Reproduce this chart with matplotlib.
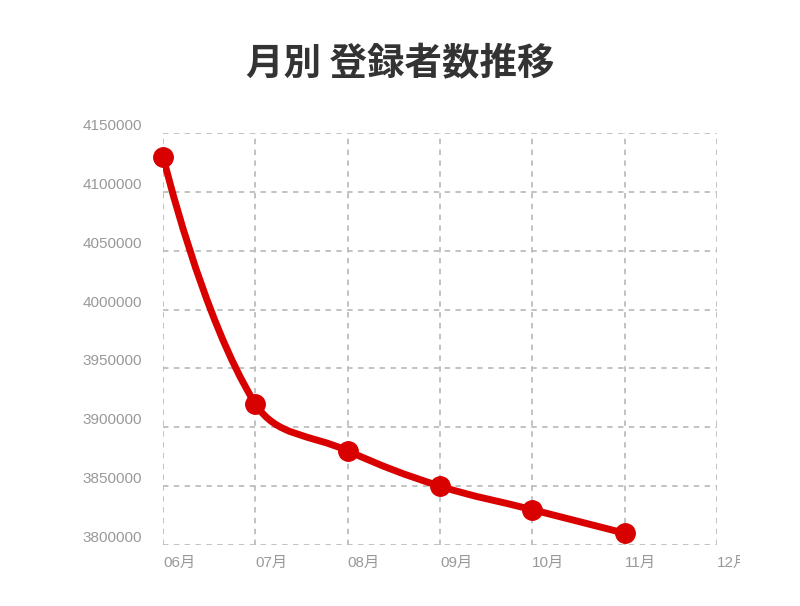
import numpy as np
import matplotlib.pyplot as plt
from matplotlib.path import Path
from matplotlib.patches import PathPatch
from matplotlib.transforms import Bbox, TransformedBbox

plt.rcParams['font.family'] = ['Liberation Sans', 'Noto Sans CJK JP', 'DejaVu Sans']

# データ
months = ['06月', '07月', '08月', '09月', '10月', '11月', '12月']
users = [4130000, 3920000, 3880000, 3850000, 3830000, 3810000]
y_ticks = [3800000, 3850000, 3900000, 3950000, 4000000, 4050000, 4100000, 4150000]

fig = plt.figure(figsize=(8, 6.06), dpi=100)
ax = fig.add_axes([0.20375, 0.1007, 0.6925, 0.6798])

xmin, xmax = 0, len(months) - 1
ymin, ymax = y_ticks[0], y_ticks[-1]
ax.set_xlim(xmin, xmax)
ax.set_ylim(ymin, ymax)

# Chart.js風のベジェ曲線 (tension 0.4)
x = np.arange(len(users), dtype=float)
y = np.array(users, dtype=float)
w_px, h_px = 554.0, 412.0
px = (x - xmin) / (xmax - xmin) * w_px
py = (y - ymin) / (ymax - ymin) * h_px
t = 0.4
n = len(x)
cp_prev = [(px[i], py[i]) for i in range(n)]
cp_next = [(px[i], py[i]) for i in range(n)]
for i in range(1, n - 1):
    d01 = np.hypot(px[i] - px[i-1], py[i] - py[i-1])
    d12 = np.hypot(px[i+1] - px[i], py[i+1] - py[i])
    s01 = d01 / (d01 + d12)
    s12 = d12 / (d01 + d12)
    dx = px[i+1] - px[i-1]
    dy = py[i+1] - py[i-1]
    cp_prev[i] = (px[i] - t * s01 * dx, py[i] - t * s01 * dy)
    cp_next[i] = (px[i] + t * s12 * dx, py[i] + t * s12 * dy)

def to_data(p):
    return (p[0] / w_px * (xmax - xmin) + xmin, p[1] / h_px * (ymax - ymin) + ymin)

verts = [(x[0], y[0])]
codes = [Path.MOVETO]
for i in range(n - 1):
    verts += [to_data(cp_next[i]), to_data(cp_prev[i+1]), (x[i+1], y[i+1])]
    codes += [Path.CURVE4] * 3

red = '#d90000'
ax.add_patch(PathPatch(Path(verts, codes), facecolor='none', edgecolor=red,
                       lw=5, capstyle='round', joinstyle='round', zorder=3))
ax.plot(x, y, 'o', color=red, markersize=14, zorder=4, clip_on=False)

# 軸の設定
ax.set_xticks(range(len(months)))
ax.set_xticklabels(months)
ax.set_yticks(y_ticks)
ax.set_yticklabels([str(v) for v in y_ticks])
for s in ax.spines.values():
    s.set_visible(False)
ax.tick_params(length=0, colors='#999999', labelsize=11)
ax.tick_params(axis='x', pad=8)
ax.tick_params(axis='y', pad=15)
for lab in ax.get_xticklabels():
    lab.set_horizontalalignment('left')
for lab in ax.get_yticklabels():
    lab.set_verticalalignment('bottom')
ax.grid(True, color='#bdbdbd', linestyle=(0, (3, 3)), lw=1.3)
ax.set_axisbelow(True)

# 12月のラベルは右端で切れる
clip = TransformedBbox(Bbox([[0, 0], [740 / 800, 1]]), fig.transFigure)
last = ax.get_xticklabels()[-1]
last.set_clip_box(clip)
last.set_clip_on(True)

fig.text(0.5, 0.895, '月別 登録者数推移', ha='center', va='center', fontsize=27,
         fontweight='bold', color='#333333',
         family=['Noto Sans CJK JP', 'DejaVu Sans'])

plt.savefig('out.png', dpi=100)
